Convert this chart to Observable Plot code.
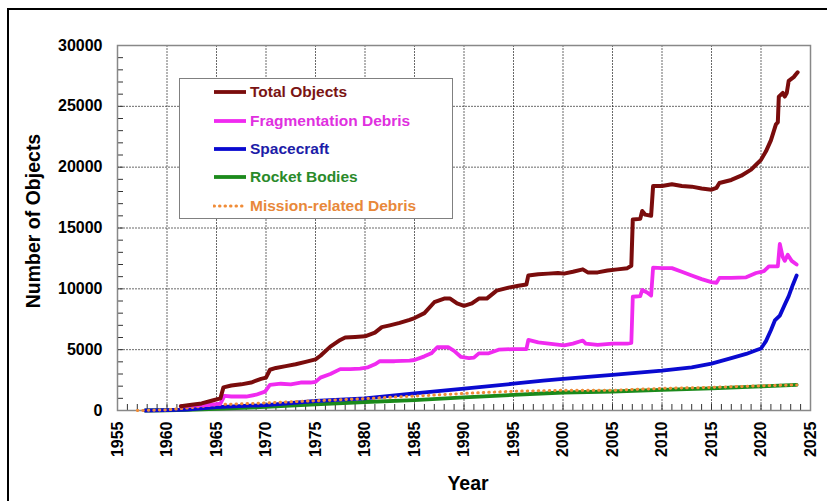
<!DOCTYPE html>
<html><head><meta charset="utf-8">
<script src="https://cdn.jsdelivr.net/npm/d3@7"></script>
<script src="https://cdn.jsdelivr.net/npm/@observablehq/plot@0.6"></script>
<style>
html,body{margin:0;padding:0;background:#fff;overflow:hidden;}
#wrap{position:relative;width:827px;height:501px;overflow:hidden;font-family:"Liberation Sans",Arial,sans-serif;font-weight:bold;}
#chart{position:absolute;left:0;top:0;}
#border{position:absolute;left:7px;top:8px;width:900px;height:600px;border:2px solid #000;pointer-events:none;}
.ytitle{position:absolute;left:33px;top:221px;transform:translate(-50%,-50%) rotate(-90deg);font-size:19.5px;white-space:nowrap;}
.xtitle{position:absolute;left:468px;top:483px;transform:translate(-50%,-50%);font-size:19.5px;white-space:nowrap;}
#legend{position:absolute;left:179px;top:78px;width:272px;height:139px;border:1px solid #808080;background:#fff;}
.row{position:absolute;left:33px;height:20px;display:flex;align-items:center;font-size:15.5px;white-space:nowrap;}
.row svg{margin-right:3px;}
</style></head>
<body>
<div id="wrap">
  <div id="chart"></div>
  <div class="ytitle">Number of Objects</div>
  <div class="xtitle">Year</div>
  <div id="legend"></div>
  <div id="border"></div>
</div>
<script>
// ---- data ----
const seriesNames = ["Total Objects","Fragmentation Debris","Spacecraft","Rocket Bodies","Mission-related Debris"];

const totalYears = [1961.4,1962.5,1963.5,1964.5,1965.4,1965.7,1966.5,1967.5,1968.5,1969.5,1970.0,1970.4,1971.0,1972.0,1973.0,1974.0,1975.0,1975.5,1976.5,1977.5,1978.0,1979.0,1980.0,1981.0,1981.7,1982.5,1983.5,1984.5,1985.0,1986.0,1987.0,1988.0,1988.6,1989.3,1990.0,1990.8,1991.5,1992.3,1993.3,1994.5,1995.5,1996.3,1996.5,1997.5,1998.5,1999.5,2000.1,2001.0,2002.0,2002.5,2003.5,2004.5,2005.5,2006.5,2006.9,2007.05,2007.8,2008.0,2008.3,2008.9,2009.1,2010.0,2011.0,2012.0,2013.0,2014.0,2015.0,2015.5,2015.8,2017.0,2018.0,2019.0,2019.5,2020.0,2020.5,2021.0,2021.5,2021.7,2021.8,2022.2,2022.4,2022.6,2022.8,2023.3,2023.7];
const totalValues = [350,480,580,800,1000,1900,2050,2150,2300,2600,2700,3350,3500,3650,3800,4000,4200,4500,5250,5800,6000,6050,6100,6400,6850,7000,7200,7450,7600,8000,8900,9200,9200,8800,8600,8800,9200,9200,9850,10100,10250,10350,11100,11200,11250,11300,11250,11400,11600,11350,11350,11500,11600,11700,11900,15700,15750,16400,16100,16000,18450,18450,18600,18450,18400,18250,18150,18300,18700,18950,19300,19800,20200,20600,21300,22200,23500,23700,25800,26100,25800,26100,27100,27400,27800];

const fragYears = [1961.4,1962.5,1964.0,1965.4,1965.8,1966.5,1968.0,1969.0,1969.9,1970.4,1971.5,1972.5,1973.5,1974.5,1975.0,1975.5,1976.5,1977.5,1978.5,1979.5,1980.3,1981.0,1981.5,1983.0,1984.5,1985.0,1986.0,1986.7,1987.3,1988.4,1989.0,1989.7,1990.5,1991.0,1991.5,1992.5,1993.5,1995.0,1996.3,1996.5,1997.5,1999.0,2000.1,2001.0,2002.0,2002.3,2003.5,2005.0,2006.5,2006.9,2007.05,2007.8,2008.0,2008.5,2008.9,2009.1,2010.0,2011.0,2012.0,2013.0,2014.0,2015.0,2015.5,2015.8,2017.0,2018.5,2019.5,2020.3,2020.8,2021.7,2021.9,2022.2,2022.4,2022.7,2023.1,2023.6];
const fragValues = [350,400,450,560,1200,1150,1150,1300,1550,2100,2200,2150,2300,2300,2350,2700,3000,3400,3400,3450,3550,3800,4050,4050,4100,4150,4450,4700,5200,5200,4900,4400,4300,4350,4700,4700,5000,5050,5050,5800,5600,5450,5350,5500,5750,5500,5400,5500,5500,5550,9350,9400,9900,9700,9450,11750,11700,11700,11400,11100,10800,10550,10500,10900,10900,10950,11300,11450,11850,11850,13700,12600,12300,12800,12300,12000];

const scYears = [1957.8,1960,1962,1965,1970,1975,1980,1985,1990,1995,1998,2000,2005,2010,2013,2015,2017,2018.5,2019.5,2020,2020.5,2021,2021.4,2021.9,2022.4,2022.8,2023.2,2023.6];
const scValues = [0,30,80,270,450,780,1000,1400,1800,2200,2450,2600,2930,3280,3550,3850,4300,4650,4950,5100,5700,6600,7400,7800,8700,9400,10300,11100];

const rbYears = [1957.8,1960,1962,1965,1970,1975,1980,1985,1990,1995,2000,2005,2010,2015,2020,2023.6];
const rbValues = [0,20,50,130,290,500,700,850,1080,1280,1480,1560,1700,1820,1980,2110];

const mrYears = [1957,1960,1962,1965,1970,1975,1980,1985,1990,1995,2000,2005,2010,2015,2020,2023.6];
const mrValues = [0,50,200,480,620,800,980,1180,1400,1580,1660,1660,1820,1900,2030,2100];

const xTicks = d3.range(1955, 2026, 5);
const yTicks = d3.range(0, 30001, 5000);
const xMinorTicks = d3.range(1955, 2026, 1);
const yMinorTicks = d3.range(0, 30001, 1000);

// ---- style config ----
const colors = {
  "Total Objects": "#7a0c0c",
  "Fragmentation Debris": "#f02af0",
  "Spacecraft": "#0a0ad0",
  "Rocket Bodies": "#1b8a1b",
  "Mission-related Debris": "#f08c38"
};
const textColors = {
  "Total Objects": "#7a1414",
  "Fragmentation Debris": "#e030e0",
  "Spacecraft": "#1c1ca8",
  "Rocket Bodies": "#2a8a2a",
  "Mission-related Debris": "#e8883a"
};

const toRows = (ys, vs) => ys.map((y, i) => ({year: y, value: vs[i]}));
const total = toRows(totalYears, totalValues);
const frag = toRows(fragYears, fragValues);
const sc = toRows(scYears, scValues);
const rb = toRows(rbYears, rbValues);
const mr = toRows(mrYears, mrValues);

const font = "Liberation Sans, Arial, sans-serif";
const chart = Plot.plot({
  width: 827, height: 501,
  marginLeft: 117, marginRight: 17, marginTop: 45, marginBottom: 91,
  style: {fontFamily: font, fontWeight: "bold", fontSize: "16px", background: "transparent", color: "#000"},
  x: {domain: [1955, 2025], label: null},
  y: {domain: [0, 30000], label: null},
  marks: [
    Plot.gridX(xTicks, {stroke: "#222", strokeOpacity: 0.85, strokeDasharray: "2,1", strokeWidth: 0.8}),
    Plot.gridY(yTicks, {stroke: "#222", strokeOpacity: 0.85, strokeDasharray: "2,1", strokeWidth: 0.8}),
    Plot.axisX(xMinorTicks, {tickSize: -6, text: null, stroke: "#333", label: null}),
    Plot.axisY(yMinorTicks, {tickSize: -6, text: null, stroke: "#333", label: null}),
    Plot.axisX(xTicks, {tickSize: 0, tickPadding: 11, tickRotate: -90, tickFormat: d => String(d), fontSize: 16, fontWeight: "bold", label: null}),
    Plot.axisY(yTicks, {tickSize: 0, tickPadding: 15, tickFormat: d => String(d), fontSize: 16, fontWeight: "bold", label: null}),
    Plot.frame({stroke: "#888", strokeWidth: 1.5}),
    Plot.line(rb, {x: "year", y: "value", stroke: colors["Rocket Bodies"], strokeWidth: 3.8}),
    Plot.line(sc, {x: "year", y: "value", stroke: colors["Spacecraft"], strokeWidth: 3.8}),
    Plot.line(mr, {x: "year", y: "value", stroke: colors["Mission-related Debris"], strokeWidth: 3, strokeDasharray: "0.5,5", strokeLinecap: "round"}),
    Plot.line(frag, {x: "year", y: "value", stroke: colors["Fragmentation Debris"], strokeWidth: 3.8}),
    Plot.line(total, {x: "year", y: "value", stroke: colors["Total Objects"], strokeWidth: 4})
  ]
});
document.getElementById("chart").appendChild(chart);

// ---- legend ----
const legend = document.getElementById("legend");
const rowTops = [3, 32, 60, 88, 117];
seriesNames.forEach((name, i) => {
  const row = document.createElement("div");
  row.className = "row";
  row.style.top = rowTops[i] + "px";
  const dotted = name === "Mission-related Debris";
  row.innerHTML = `<svg width="34" height="8"><line x1="1" x2="33" y1="4" y2="4" stroke="${colors[name]}" stroke-width="${dotted ? 3 : 3.8}" ${dotted ? 'stroke-dasharray="0.5,5" stroke-linecap="round"' : ''}/></svg><span style="color:${textColors[name]}">${name}</span>`;
  legend.appendChild(row);
});
</script>
</body></html>
